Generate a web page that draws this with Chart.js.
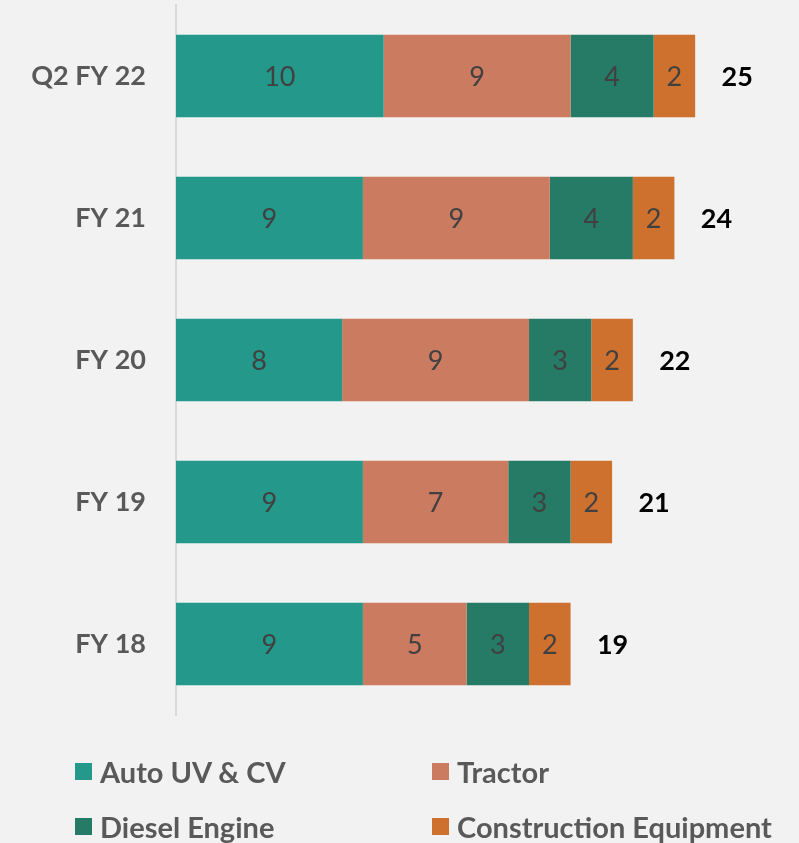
<!DOCTYPE html>
<html>
<head>
<meta charset="utf-8">
<script src="https://cdn.jsdelivr.net/npm/chart.js@4.4.1/dist/chart.umd.min.js"></script>
<style>
  html, body { margin: 0; padding: 0; background: #f2f2f2; }
  #wrap { position: relative; width: 799px; height: 843px; }
  #legend { position: absolute; left: 0; top: 0; width: 799px; height: 843px; pointer-events: none; }
  .item { position: absolute; display: flex; align-items: center; font: bold 29px Lato, sans-serif; color: #595959; white-space: nowrap; }
  .item span.box { display: inline-block; width: 17px; height: 17px; margin-right: 8px; }
</style>
</head>
<body>
<div id="wrap">
  <canvas id="salesChart"></canvas>
  <div id="legend"></div>
</div>
<script>
const categories = ['Q2 FY 22', 'FY 21', 'FY 20', 'FY 19', 'FY 18'];
const autoUvCv = [10, 9, 8, 9, 9];
const tractor = [9, 9, 9, 7, 5];
const dieselEngine = [4, 4, 3, 3, 3];
const construction = [2, 2, 2, 2, 2];
const totals = [25, 24, 22, 21, 19];
const seriesNames = ['Auto UV & CV', 'Tractor', 'Diesel Engine', 'Construction Equipment'];
const seriesColors = ['#24988a', '#cb7b5f', '#257b66', '#cf712e'];

const canvas = document.getElementById('salesChart');
const font = 'Lato, sans-serif';

const labelsPlugin = {
    id: 'barLabels',
    afterDatasetsDraw(chart) {
        const ctx = chart.ctx;
        ctx.save();
        ctx.textBaseline = 'middle';
        chart.data.datasets.forEach((ds, i) => {
            const meta = chart.getDatasetMeta(i);
            meta.data.forEach((bar, j) => {
                ctx.fillStyle = '#404040';
                ctx.font = '27px ' + font;
                ctx.textAlign = 'center';
                ctx.fillText(ds.data[j], (bar.x + bar.base) / 2, bar.y + 1);
            });
        });
        const x = chart.scales.x;
        const y = chart.scales.y;
        ctx.fillStyle = '#000';
        ctx.font = 'bold 27px ' + font;
        ctx.textAlign = 'center';
        totals.forEach((t, j) => {
            ctx.fillText(t, x.getPixelForValue(t) + 42, y.getPixelForValue(j) + 1);
        });
        ctx.restore();
    }
};

new Chart(canvas, {
    type: 'bar',
    data: {
        labels: categories,
        datasets: [autoUvCv, tractor, dieselEngine, construction].map((d, i) => ({
            label: seriesNames[i],
            data: d,
            backgroundColor: seriesColors[i],
            borderWidth: 0,
            categoryPercentage: 1,
            barPercentage: 0.58,
        })),
    },
    options: {
        indexAxis: 'y',
        responsive: true,
        maintainAspectRatio: false,
        animation: false,
        layout: { padding: { top: 5, bottom: 128, right: 0, left: 0 } },
        scales: {
            x: {
                stacked: true,
                min: 0,
                max: 30,
                display: false,
            },
            y: {
                stacked: true,
                grid: { display: false, drawTicks: false },
                border: { display: true, color: '#d9d9d9', width: 2 },
                ticks: {
                    color: '#595959',
                    font: { family: font, size: 27, weight: 'bold' },
                    padding: 30,
                },
                afterFit(scale) {
                    scale.width = 176;
                    scale.paddingTop = 0;
                    scale.paddingBottom = 0;
                },
            },
        },
        plugins: {
            legend: { display: false },
            tooltip: { enabled: false },
        },
    },
    plugins: [labelsPlugin],
});

// two-column legend under the chart
const legend = document.getElementById('legend');
const spots = [[75, 771], [432, 771], [75, 826], [432, 826]];
seriesNames.forEach((name, i) => {
    const el = document.createElement('div');
    el.className = 'item';
    el.style.left = spots[i][0] + 'px';
    el.style.top = (spots[i][1] - 18) + 'px';
    el.style.height = '36px';
    el.innerHTML = '<span class="box" style="background:' + seriesColors[i] + '"></span>';
    el.appendChild(document.createTextNode(name));
    legend.appendChild(el);
});
</script>
</body>
</html>
